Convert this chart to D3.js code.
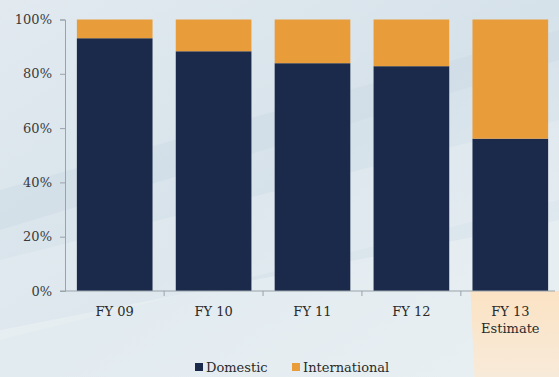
<!DOCTYPE html>
<html><head><meta charset="utf-8">
<script src="https://cdn.jsdelivr.net/npm/d3@7"></script>
<style>body{margin:0;}svg{display:block;}</style>
</head><body>
<script>
const categories = ["FY 09", "FY 10", "FY 11", "FY 12", "FY 13 Estimate"];
const domestic = [93.1, 88.3, 83.9, 82.8, 56.1];
const international = [6.9, 11.7, 16.1, 17.2, 43.9];
const yTicks = [0, 20, 40, 60, 80, 100];
const seriesNames = ["Domestic", "International"];
const colors = ["#1b2a4a", "#e89c3a"];

(function(){
const W = 559, H = 377;
const svg = d3.select("body").append("svg").attr("width", W).attr("height", H);
const defs = svg.append("defs");
const bg = defs.append("linearGradient").attr("id","bg").attr("x1","0").attr("y1","0").attr("x2","1").attr("y2","1");
bg.append("stop").attr("offset","0").attr("stop-color","#e2eaf0");
bg.append("stop").attr("offset","0.5").attr("stop-color","#d6e2ea");
bg.append("stop").attr("offset","1").attr("stop-color","#e4ecf1");
svg.append("rect").attr("width",W).attr("height",H).attr("fill","url(#bg)");
svg.append("path").attr("d","M0,260 L559,120 L559,200 L0,340 Z").attr("fill","#ffffff").attr("opacity",0.18);
svg.append("path").attr("d","M0,190 L559,30 L559,60 L0,230 Z").attr("fill","#c9d8e3").attr("opacity",0.35);
svg.append("path").attr("d","M0,330 L559,220 L559,377 L0,377 Z").attr("fill","#eef3f6").attr("opacity",0.5);

const peach = defs.append("linearGradient").attr("id","peach").attr("x1","0").attr("y1","0").attr("x2","0").attr("y2","1");
peach.append("stop").attr("offset","0").attr("stop-color","#fbe3c4");
peach.append("stop").attr("offset","1").attr("stop-color","#f8ead9");

const FONT = "DejaVu Serif";
const FS = 13;
const mLeft = 65, mRight = 560, mTop = 19.5, mBottom = 291;
const x = d3.scaleBand().domain(categories).range([mLeft, mRight]).paddingInner(0.235).paddingOuter(0.12);
const y = d3.scaleLinear().domain([0, 100]).range([mBottom, mTop]);

const lastX = x(categories[4]);
svg.append("path")
  .attr("d", `M${lastX-2},${mBottom} L${W},${mBottom} L${W},${H} L${lastX+2},${H} Z`)
  .attr("fill","url(#peach)");

const rows = categories.map((c,i)=>({cat:c, Domestic:domestic[i], International:international[i]}));
const stacked = d3.stack().keys(seriesNames)(rows);
svg.append("g").selectAll("g").data(stacked).join("g")
  .attr("fill",(d,i)=>colors[i])
  .selectAll("rect").data(d=>d).join("rect")
  .attr("x",d=>x(d.data.cat))
  .attr("width",x.bandwidth())
  .attr("y",d=>y(d[1]))
  .attr("height",d=>y(d[0])-y(d[1]));

const axisColor = "#9aa3aa";
const yAxis = svg.append("g").attr("transform",`translate(${mLeft},0)`)
  .call(d3.axisLeft(y).tickValues(yTicks).tickFormat(d=>d+"%").tickSize(5).tickPadding(8));
yAxis.attr("font-family",FONT).attr("font-size",FS);
yAxis.select(".domain").attr("stroke",axisColor);
yAxis.selectAll(".tick line").attr("stroke",axisColor);
yAxis.selectAll("text").attr("fill","#3a3a3a");

svg.append("line").attr("x1",mLeft-5).attr("x2",W-4).attr("y1",mBottom).attr("y2",mBottom).attr("stroke",axisColor);
const step = x.step();
const boundaries = categories.slice(0,4).map(c=>x(c)+x.bandwidth()+(step-x.bandwidth())/2);
svg.append("g").selectAll("line").data(boundaries).join("line")
  .attr("x1",d=>d).attr("x2",d=>d).attr("y1",mBottom).attr("y2",mBottom+5).attr("stroke",axisColor);

const labels = svg.append("g").attr("font-family",FONT).attr("font-size",FS).selectAll("text").data(categories).join("text")
  .attr("x",d=>x(d)+x.bandwidth()/2).attr("y",316)
  .attr("text-anchor","middle")
  .attr("fill","#2a2a2a");
labels.each(function(d){
  const parts = d.startsWith("FY 13") ? ["FY 13","Estimate"] : [d];
  const t = d3.select(this);
  parts.forEach((p,i)=>t.append("tspan").attr("x",x(d)+x.bandwidth()/2).attr("dy",i?17:0).text(p));
});

const legend = svg.append("g").attr("font-family",FONT).attr("font-size",FS).attr("fill","#2a2a2a");
const legendX = [195, 292];
seriesNames.forEach((s,i)=>{
  legend.append("rect").attr("x",legendX[i]).attr("y",363).attr("width",8).attr("height",8).attr("fill",colors[i]);
  legend.append("text").attr("x",legendX[i]+11).attr("y",372).text(s);
});
})();
</script>
</body></html>
